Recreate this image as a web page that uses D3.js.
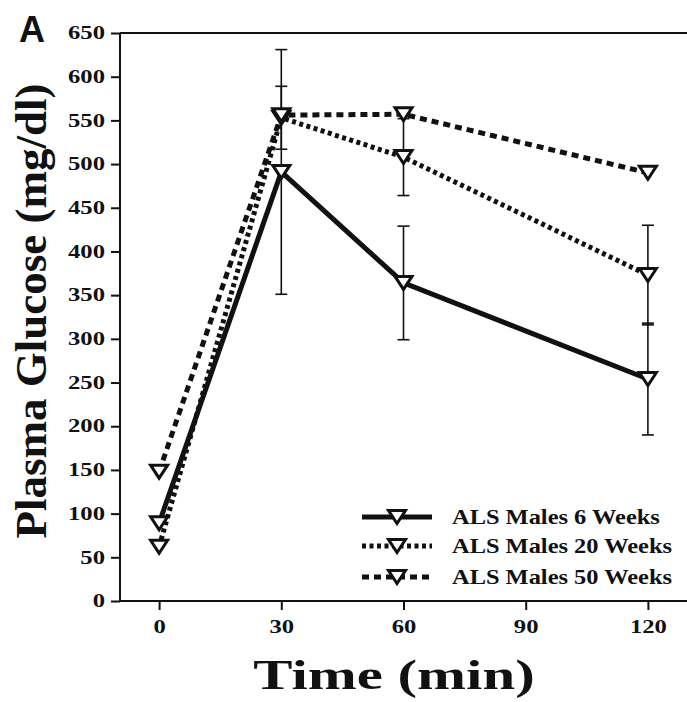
<html>
<head>
<meta charset="utf-8">
<title>Plasma Glucose</title>
<script src="https://cdn.jsdelivr.net/npm/d3@7/dist/d3.min.js"></script>
<style>
  body { margin: 0; background: #fff; }
  text { font-family: "Liberation Serif", "Times New Roman", serif; font-weight: bold; fill: #111; }
</style>
</head>
<body>
<script>
    // time points (min)
    var times = [0, 30, 60, 120];
    var xTicks = [0, 30, 60, 90, 120];
    var yTicks = [0, 50, 100, 150, 200, 250, 300, 350, 400, 450, 500, 550, 600, 650];

    // plasma glucose (mg/dl)
    var wk6 = [89, 491, 364, 254];
    var wk6Err = [0, 140, 65, 64];
    var wk20 = [62, 553, 508, 373];
    var wk20Err = [0, 36, 44, 57];
    var wk50 = [148, 556, 557, 490];
    var wk50Err = [0, 0, 0, 0];

    var seriesNames = ["ALS Males 6 Weeks", "ALS Males 20 Weeks", "ALS Males 50 Weeks"];

    var width = 687;
    var height = 702;

    var svg = d3.select("body")
        .append("svg")
        .attr("width", width)
        .attr("height", height);

    var x = d3.scaleLinear().domain([-9.6, 129.6]).range([120, 687]);
    var y = d3.scaleLinear().domain([0, 650]).range([601, 33]);

    var series = [
        {name: seriesNames[0], vals: wk6, err: wk6Err, dash: null},
        {name: seriesNames[1], vals: wk20, err: wk20Err, dash: "4,3.5"},
        {name: seriesNames[2], vals: wk50, err: wk50Err, dash: "7,5"}
    ];

    // the scanned figure's type is wider than Times, so stretch it
    function stretch(sel, f)
    {
        sel.each(function(){
            var w = this.getComputedTextLength();
            d3.select(this).attr("textLength", w * f).attr("lengthAdjust", "spacingAndGlyphs");
        });
    }

    // axes
    var yAxis = d3.axisLeft(y).tickValues(yTicks).tickSize(9).tickPadding(6);
    var gy = svg.append("g").attr("transform", "translate(120,0)").call(yAxis);
    var xAxis = d3.axisBottom(x).tickValues(xTicks).tickSize(9).tickPadding(10).tickSizeOuter(0);
    var gx = svg.append("g").attr("transform", "translate(0,601)").call(xAxis);

    [gx, gy].forEach(function(g){
        g.selectAll("path, line").attr("stroke", "#111").attr("stroke-width", 2);
        g.selectAll("text").attr("font-size", "18px")
            .attr("font-family", "Liberation Serif").attr("font-weight", "bold").attr("fill", "#111");
        stretch(g.selectAll("text"), 1.37);
    });
    gy.select(".domain").attr("d", "M0,601V33");
    gx.select(".domain").attr("d", "M120,0H687");

    // top frame line
    svg.append("line")
        .attr("x1", 120).attr("x2", 687)
        .attr("y1", y(650)).attr("y2", y(650))
        .attr("stroke", "#111").attr("stroke-width", 2);

    // error bars
    series.forEach(function(s){
        s.vals.forEach(function(v, i){
            if (!s.err[i]) return;
            var cx = x(times[i]);
            var g = svg.append("g").attr("stroke", "#111").attr("stroke-width", 1.6);
            g.append("line").attr("x1", cx).attr("x2", cx)
                .attr("y1", y(v - s.err[i])).attr("y2", y(v + s.err[i]));
            [v - s.err[i], v + s.err[i]].forEach(function(e){
                g.append("line").attr("x1", cx - 6).attr("x2", cx + 6)
                    .attr("y1", y(e)).attr("y2", y(e));
            });
        });
    });

    var line = d3.line()
        .x(function(d, i){ return x(times[i]); })
        .y(function(d){ return y(d); });

    series.slice().reverse().forEach(function(s){
        svg.append("path")
            .attr("d", line(s.vals))
            .attr("fill", "none")
            .attr("stroke", "#111")
            .attr("stroke-width", 5)
            .attr("stroke-dasharray", s.dash);
    });

    function tri(cx, cy)
    {
        var w = 8.5, h = 13;
        return "M" + (cx - w) + "," + (cy - h / 2) + "L" + (cx + w) + "," + (cy - h / 2)
            + "L" + cx + "," + (cy + h / 2) + "Z";
    }

    series.forEach(function(s){
        s.vals.forEach(function(v, i){
            svg.append("path")
                .attr("d", tri(x(times[i]), y(v)))
                .attr("fill", "#fff")
                .attr("stroke", "#111")
                .attr("stroke-width", 3);
        });
    });

    // legend
    var legY = [517, 546, 577];
    series.forEach(function(s, i){
        svg.append("line")
            .attr("x1", 362).attr("x2", 432)
            .attr("y1", legY[i]).attr("y2", legY[i])
            .attr("stroke", "#111").attr("stroke-width", 5)
            .attr("stroke-dasharray", s.dash);
        svg.append("path")
            .attr("d", tri(397, legY[i]))
            .attr("fill", "#fff").attr("stroke", "#111").attr("stroke-width", 3);
        var t = svg.append("text")
            .attr("x", 452).attr("y", legY[i] + 7)
            .attr("font-size", "22px")
            .text(s.name);
        stretch(t, 1.11);
    });

    // titles
    svg.append("text")
        .attr("transform", "translate(46,311) rotate(-90)")
        .attr("text-anchor", "middle")
        .attr("font-size", "45px")
        .text("Plasma Glucose (mg/dl)");

    var xt = svg.append("text")
        .attr("x", 394).attr("y", 689)
        .attr("text-anchor", "middle")
        .attr("font-size", "42px")
        .text("Time (min)");
    stretch(xt, 1.4);

    svg.append("text")
        .attr("x", 19).attr("y", 42)
        .style("font-family", "'Liberation Sans', Arial, sans-serif")
        .attr("font-size", "36px")
        .text("A");
</script>
</body>
</html>
